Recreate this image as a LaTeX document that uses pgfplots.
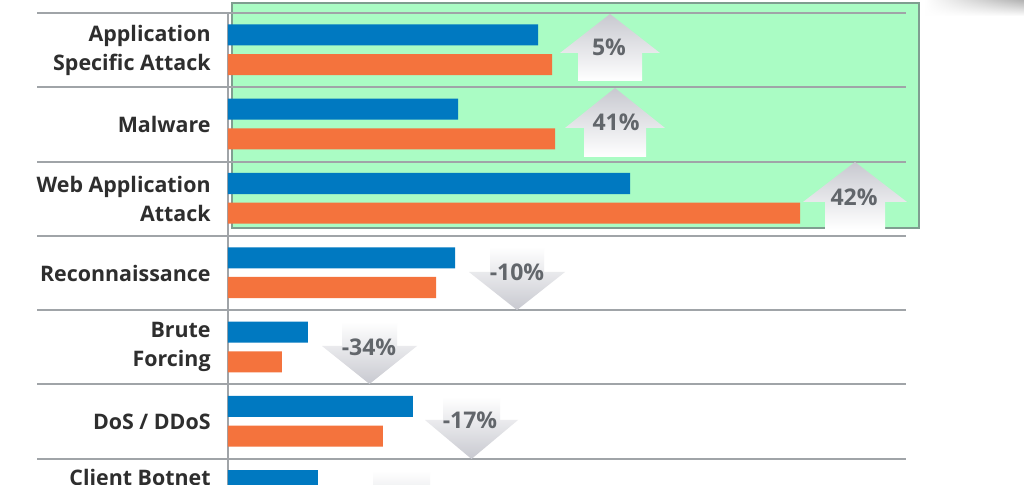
\documentclass[border=0pt]{standalone}
\usepackage{fontspec}
\setmainfont{Open Sans}
\usepackage{pgfplots}
\pgfplotsset{compat=1.18}
\usetikzlibrary{fadings}
\definecolor{barblue}{HTML}{0079C1}
\definecolor{barorange}{HTML}{F4733D}
\definecolor{hlgreen}{HTML}{AAFCC4}
\definecolor{hlborder}{HTML}{7F9E90}
\definecolor{gridgray}{HTML}{A0A4A8}
\definecolor{labeltext}{HTML}{2E2E2E}
\definecolor{pcttext}{HTML}{62666B}
\definecolor{arrowgray}{HTML}{C8C9D0}
\tikzfading[name=fadeleft, left color=transparent!100, right color=transparent!0]

% up arrow: cx, tip y, head-base y, bottom y, head half width, shaft half width
\newcommand{\uparr}[6]{%
  \shade[top color=arrowgray, bottom color=white]
    (#1,#2) -- ({#1+#5},#3) -- ({#1+#6},#3) -- ({#1+#6},#4) -- ({#1-#6},#4)
    -- ({#1-#6},#3) -- ({#1-#5},#3) -- cycle;}
% down arrow: cx, top y, head-base y, tip y, head half width, shaft half width
\newcommand{\downarr}[6]{%
  \shade[top color=white, bottom color=arrowgray]
    ({#1-#6},#2) -- ({#1+#6},#2) -- ({#1+#6},#3) -- ({#1+#5},#3) -- (#1,#4)
    -- ({#1-#5},#3) -- ({#1-#6},#3) -- cycle;}

\begin{document}
\begin{tikzpicture}[x=0.5pt,y=-0.5pt]
\path[use as bounding box, clip] (0,0) rectangle (1024,485);
\fill[white] (0,0) rectangle (1024,485);
% faint shadow top right
\shade[top color=black!30, bottom color=white, path fading=fadeleft] (925,0) rectangle (1024,16);
% highlight box
\fill[hlgreen, draw=hlborder, line width=1pt] (232,3) rectangle (919,228);
% row separators
\foreach \yy in {13,87.3,161.6,235.9,310.2,384.5,458.8}
  \draw[gridgray, line width=1pt] (37,\yy) -- (906,\yy);
% left axis line
\draw[gridgray, line width=1pt] (228,13) -- (228,485);

\begin{axis}[
  at={(114pt,-266.5pt)}, anchor=south west,
  width=339pt, height=260pt, scale only axis,
  xmin=0, xmax=678, ymin=-0.5, ymax=6.5, y dir=reverse,
  xbar, bar width=0.283,
  axis line style={draw=none},
  xtick=\empty, ytick={0,1,2,3,4,5,6},
  yticklabels={{Application\\Specific Attack},{Malware},{Web Application\\Attack},{Reconnaissance},{Brute\\Forcing},{DoS / DDoS},{Client Botnet\\\strut}},
  major tick length=0pt,
  yticklabel style={align=right, font=\bfseries\fontsize{10.7}{14.5}\selectfont, text=labeltext, inner sep=0pt, xshift=-8.5pt},
  clip=false,
]
\addplot[draw=none, fill=barblue, bar shift=-0.205] coordinates {(310,0) (230,1) (402,2) (227,3) (80,4) (185,5) (90,6)};
\addplot[draw=none, fill=barorange, bar shift=0.195] coordinates {(324,0) (327,1) (572,2) (208,3) (54,4) (155,5)};
\end{axis}

% change arrows
\uparr{610}{14}{53}{81}{50}{32}
\uparr{615}{88}{128}{157}{50}{31}
\uparr{855}{162}{202}{229}{52}{30}
\downarr{517}{247}{272}{310}{48}{27}
\downarr{369.5}{322}{346}{384}{47.5}{27.5}
\downarr{471.5}{397}{420}{459}{46.5}{28.5}
\downarr{401.5}{471}{495}{533}{47}{28.5}
\begin{scope}[every node/.style={font=\bfseries\fontsize{11.5}{13}\selectfont, text=pcttext}]
\node at (609,47) {5\%};
\node at (616,122) {41\%};
\node at (854,197) {42\%};
\node at (517,272) {-10\%};
\node at (369,347) {-34\%};
\node at (470,420) {-17\%};
\end{scope}
\end{tikzpicture}
\end{document}
